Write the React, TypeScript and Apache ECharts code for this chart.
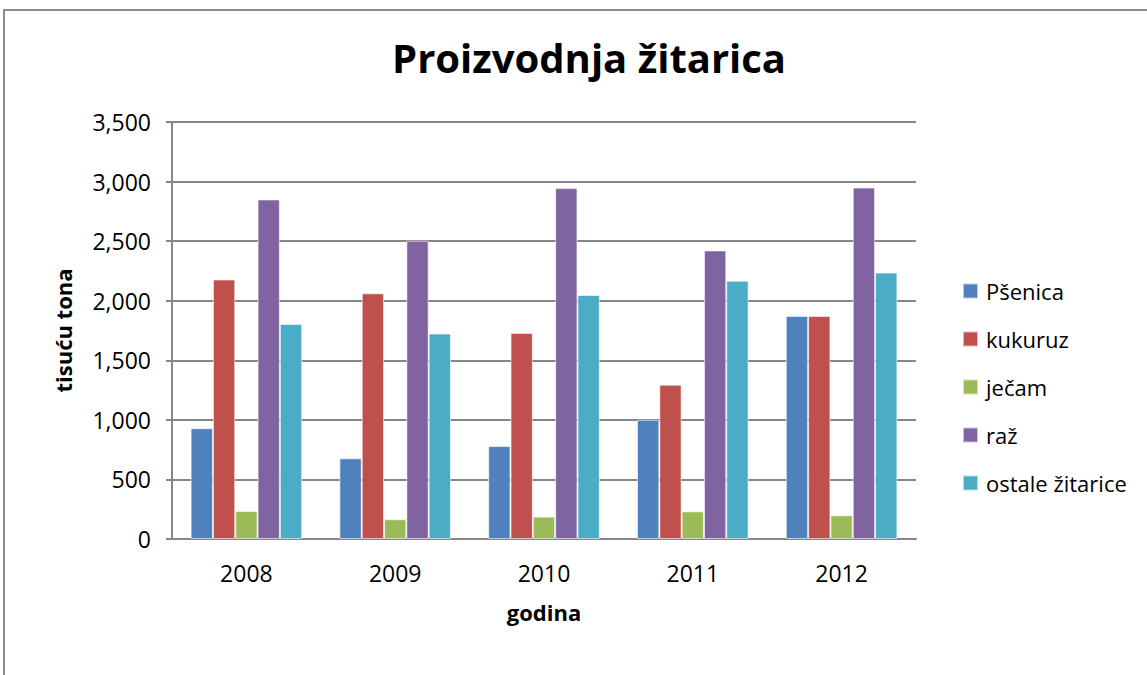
import React, { useEffect, useRef } from "react";
import * as echarts from "echarts";

const categories = ["2008", "2009", "2010", "2011", "2012"];
const seriesNames = ["Pšenica", "kukuruz", "ječam", "raž", "ostale žitarice"];
const psenica = [930, 677, 780, 1000, 1872];
const kukuruz = [2178, 2062, 1730, 1295, 1872];
const jecam = [235, 166, 188, 232, 199];
const raz = [2850, 2503, 2945, 2422, 2950];
const ostale = [1805, 1724, 2048, 2168, 2236];
const colors = ["#4F81BD", "#C0504D", "#9BBB59", "#8064A2", "#4BACC6"];
const yTicks = [0, 500, 1000, 1500, 2000, 2500, 3000, 3500];

const FONT = "'Open Sans', 'Noto Sans', sans-serif";

export default function App() {
  const ref = useRef<HTMLDivElement>(null);
  useEffect(() => {
    document.body.style.margin = "0";
    const chart = echarts.init(ref.current!, null, { renderer: "svg" });
    const values = [psenica, kukuruz, jecam, raz, ostale];
    chart.setOption({
      animation: false,
      backgroundColor: "#ffffff",
      textStyle: { fontFamily: FONT },
      title: {
        text: "Proizvodnja žitarica",
        left: 584,
        textAlign: "center",
        top: 32,
        textStyle: { fontSize: 40, fontWeight: "bold", color: "#000", fontFamily: FONT },
      },
      graphic: [
        {
          type: "polyline",
          shape: { points: [[4, 675], [4, 10], [1147, 10]] },
          style: { stroke: "#8c8c8c", lineWidth: 2, fill: "none" },
          silent: true,
        },
      ],
      legend: {
        orient: "vertical",
        left: 962,
        top: 279,
        padding: 0,
        itemWidth: 15,
        itemHeight: 15,
        itemGap: 24,
        icon: "rect",
        textStyle: { fontSize: 22, lineHeight: 24, color: "#000", fontFamily: FONT, padding: [0, 0, 0, 3] },
        data: seriesNames,
      },
      grid: { left: 172, right: 231, top: 122, bottom: 136 },
      xAxis: {
        type: "category",
        data: categories,
        name: "godina",
        nameLocation: "middle",
        nameGap: 62,
        nameTextStyle: { fontSize: 22, fontWeight: "bold", color: "#000", fontFamily: FONT },
        axisLine: { lineStyle: { color: "#868686", width: 2 } },
        axisTick: { show: false },
        axisLabel: { fontSize: 23, color: "#000", margin: 22, fontFamily: FONT },
      },
      yAxis: {
        type: "value",
        min: 0,
        max: 3500,
        interval: 500,
        name: "tisuću tona",
        nameLocation: "middle",
        nameGap: 98,
        nameRotate: 90,
        nameTextStyle: { fontSize: 22, fontWeight: "bold", color: "#000", fontFamily: FONT },
        axisLine: { show: true, lineStyle: { color: "#868686", width: 2 } },
        axisTick: { show: true, inside: false, length: 6, lineStyle: { color: "#868686", width: 2 } },
        axisLabel: {
          fontSize: 23,
          color: "#000",
          margin: 21,
          fontFamily: FONT,
          formatter: (v: number) => (yTicks.includes(v) ? v.toLocaleString("en-US") : ""),
        },
        splitLine: { lineStyle: { color: "#868686", width: 2 } },
      },
      series: seriesNames.map((name, i) => ({
        name,
        type: "bar",
        data: values[i],
        barGap: "0%",
        barCategoryGap: "25%",
        itemStyle: { color: colors[i], borderColor: "rgba(255,255,255,0.6)", borderWidth: 1 },
      })),
    });
    return () => chart.dispose();
  }, []);
  return <div ref={ref} style={{ width: 1147, height: 675, position: "fixed", left: 0, top: 0 }} />;
}
